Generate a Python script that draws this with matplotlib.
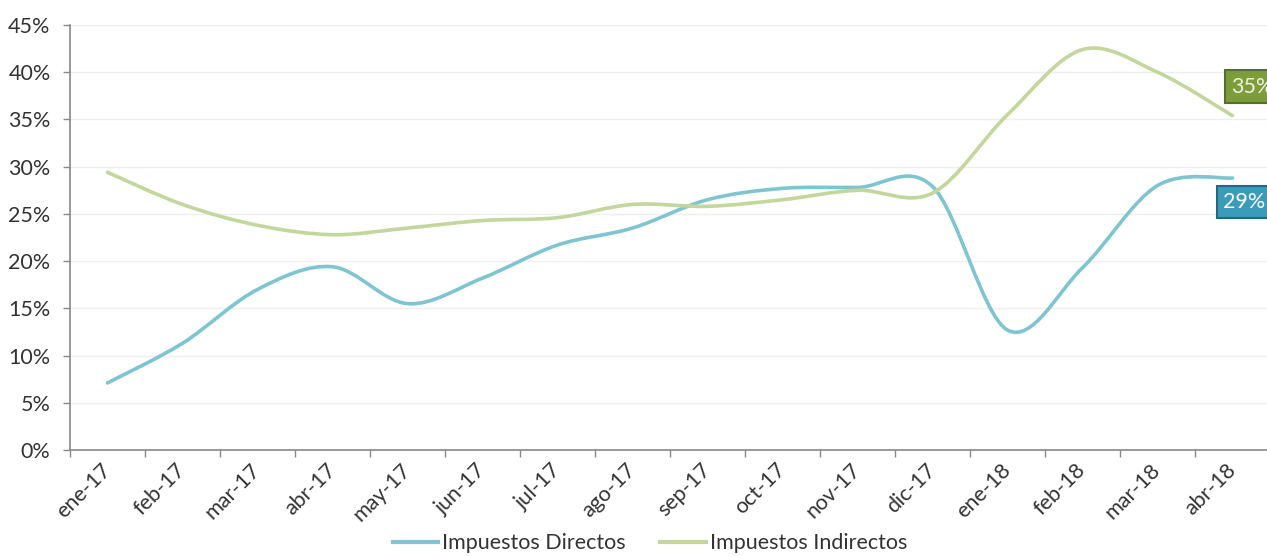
import numpy as np
import matplotlib
matplotlib.use("Agg")
import matplotlib.pyplot as plt
from matplotlib.path import Path
from matplotlib.patches import PathPatch
from matplotlib.lines import Line2D

# data (percent)
months = ["ene-17", "feb-17", "mar-17", "abr-17", "may-17", "jun-17", "jul-17", "ago-17",
          "sep-17", "oct-17", "nov-17", "dic-17", "ene-18", "feb-18", "mar-18", "abr-18"]
directos = [7.1, 11.3, 17.0, 19.4, 15.5, 18.2, 21.7, 23.5,
            26.5, 27.7, 27.8, 27.9, 12.7, 19.3, 28.0, 28.8]
indirectos = [29.4, 26.0, 23.8, 22.8, 23.5, 24.3, 24.6, 26.0,
              25.8, 26.5, 27.5, 27.2, 35.5, 42.4, 40.0, 35.4]
yticks = [0, 5, 10, 15, 20, 25, 30, 35, 40, 45]

blue = "#7fc4d1"
green = "#c3d69b"

plt.rcParams['font.family'] = ['Lato', 'DejaVu Sans']


def smooth_path(xs, ys):
    # excel-like smoothed line: cubic bezier segments through every point
    pts = np.column_stack([xs, ys]).astype(float)
    n = len(pts)
    verts = [pts[0]]
    codes = [Path.MOVETO]
    for i in range(n - 1):
        p0 = pts[i - 1] if i > 0 else pts[i]
        p1 = pts[i]
        p2 = pts[i + 1]
        p3 = pts[i + 2] if i + 2 < n else pts[i + 1]
        c1 = p1 + (p2 - p0) / 6.0
        c2 = p2 - (p3 - p1) / 6.0
        verts += [c1, c2, p2]
        codes += [Path.CURVE4] * 3
    return Path(verts, codes)


fig = plt.figure(figsize=(12.67, 5.56), dpi=100)
ax = fig.add_axes([70 / 1267, 106 / 556, 1200 / 1267, 425 / 556])

x = np.arange(len(months))
for vals, col in [(directos, blue), (indirectos, green)]:
    ax.add_patch(PathPatch(smooth_path(x, vals), facecolor="none", edgecolor=col,
                           lw=2.6, capstyle="round", joinstyle="round", zorder=3))

ax.set_xlim(-0.5, len(months) - 0.5)
ax.set_ylim(0, 45)

ax.set_yticks(yticks)
ax.set_yticklabels([f"{v}%" for v in yticks])
ax.set_xticks(x)
ax.set_xticklabels(months, rotation=45, ha="right", va="center", rotation_mode="anchor")
ax.set_xticks(np.arange(-0.5, len(months), 1), minor=True)

ax.tick_params(axis="x", which="major", length=0, pad=12, labelsize=15.5, labelcolor="#333333")
ax.tick_params(axis="x", which="minor", length=5, width=1, color="#888888")
ax.tick_params(axis="y", length=5, width=1, color="#888888", pad=9, labelsize=15.5,
               labelcolor="#333333")

ax.grid(axis="y", color="#efefef", lw=1)
ax.set_axisbelow(True)
for s in ["top", "right"]:
    ax.spines[s].set_visible(False)
for s in ["left", "bottom"]:
    ax.spines[s].set_color("#888888")
    ax.spines[s].set_linewidth(1.2)

# end labels (boxes run off the right edge as in the original)
ax.annotate("35%", xy=(x[-1], indirectos[-1]), xytext=(-1, 29), textcoords="offset pixels",
            ha="left", va="center", fontsize=15.5, color="#eef3e2", annotation_clip=False,
            bbox=dict(boxstyle="square,pad=0.3", fc="#7d9c3a", ec="#56702a", lw=1.5))
ax.annotate("29%", xy=(x[-1], directos[-1]), xytext=(-9, -24), textcoords="offset pixels",
            ha="left", va="center", fontsize=15.5, color="white", annotation_clip=False,
            bbox=dict(boxstyle="square,pad=0.3", fc="#3a9bbb", ec="#25677d", lw=1.5))

handles = [Line2D([], [], color=blue, lw=3), Line2D([], [], color=green, lw=3)]
fig.legend(handles, ["Impuestos Directos", "Impuestos Indirectos"], loc="lower center",
           bbox_to_anchor=(650 / 1267, -0.03), ncol=2, frameon=False, fontsize=15.5,
           handlelength=2.1, handletextpad=0.2, columnspacing=1.6, labelcolor="#333333")

fig.savefig("out.png", dpi=100)
